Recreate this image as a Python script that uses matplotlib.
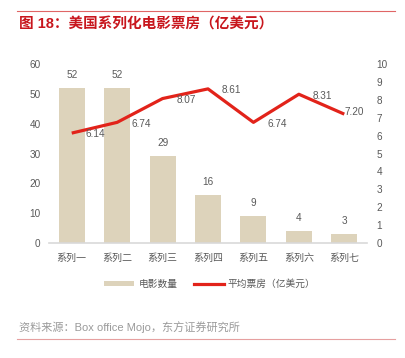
import matplotlib
matplotlib.use("Agg")
import matplotlib.pyplot as plt
from matplotlib.lines import Line2D
from matplotlib.patches import Patch

plt.rcParams['font.family'] = ['Liberation Sans', 'Noto Sans CJK SC', 'DejaVu Sans']

categories = ['系列一', '系列二', '系列三', '系列四', '系列五', '系列六', '系列七']
movie_counts = [52, 52, 29, 16, 9, 4, 3]
avg_box = [6.14, 6.74, 8.07, 8.61, 6.74, 8.31, 7.20]
left_ticks = [0, 10, 20, 30, 40, 50, 60]
right_ticks = list(range(0, 11))

W, H = 406, 358
fig = plt.figure(figsize=(W / 100, H / 100), dpi=100)

bar_color = '#DDD3BB'
line_color = '#E2231A'
text_grey = '#595959'
fs = 7.2

ax = fig.add_axes([49 / W, 1 - 243 / H, (367 - 49) / W, (243 - 64) / H])
x = list(range(len(categories)))
ax.bar(x, movie_counts, width=0.57, color=bar_color, zorder=1)
ax.set_xlim(-0.5, len(categories) - 0.5)
ax.set_ylim(0, 60)
ax.set_yticks(left_ticks)
ax.set_xticks(x)
ax.set_xticklabels(categories)
for s in ['top', 'right', 'left']:
    ax.spines[s].set_visible(False)
ax.spines['bottom'].set_color('#D9D9D9')
ax.spines['bottom'].set_linewidth(1.2)
ax.tick_params(axis='both', length=0, labelsize=fs, colors=text_grey, pad=6)
ax.tick_params(axis='x', pad=7)
for xi, v in zip(x, movie_counts):
    ax.annotate(str(v), (xi, v), xytext=(0, 6), textcoords='offset points',
                ha='center', va='bottom', fontsize=fs, color=text_grey)

ax2 = ax.twinx()
ax2.plot(x, avg_box, color=line_color, linewidth=2.3, solid_capstyle='butt', zorder=3)
ax2.set_ylim(0, 10)
ax2.set_yticks(right_ticks)
for s in ['top', 'right', 'left', 'bottom']:
    ax2.spines[s].set_visible(False)
ax2.tick_params(axis='y', length=0, labelsize=fs, colors=text_grey, pad=7)
n = len(avg_box)
for i, (xi, v) in enumerate(zip(x, avg_box)):
    dx, dy = (10, -1) if i < n - 1 else (0, 1.5)
    ax2.annotate(f'{v:.2f}', (xi, v), xytext=(dx, dy), textcoords='offset points',
                 ha='left', va='center', fontsize=fs, color=text_grey)

# Title and rules
fig.add_artist(Line2D([17 / W, 395 / W], [1 - 11 / H, 1 - 11 / H], color='#E06666', linewidth=0.8))
fig.text(19 / W, 1 - 25 / H, '图 18：美国系列化电影票房（亿美元）', fontsize=10.5, fontweight='bold',
         color='#C8161D', va='center', ha='left')

handles = [Patch(facecolor=bar_color, edgecolor='none'),
           Line2D([0], [0], color=line_color, linewidth=2.3)]
fig.legend(handles, ['电影数量', '平均票房（亿美元）'], loc='center', bbox_to_anchor=(210 / W, 1 - 284 / H),
           ncol=2, frameon=False, fontsize=7, labelcolor=text_grey, handlelength=3.1,
           handleheight=0.5, columnspacing=1.7, handletextpad=0.4)

fig.text(19 / W, 1 - 327 / H, '资料来源：Box office Mojo，东方证券研究所', fontsize=8,
         color='#9A9A9A', va='center', ha='left')
fig.add_artist(Line2D([17 / W, 395 / W], [1 - 339 / H, 1 - 339 / H], color='#E6A0A0', linewidth=0.8))

fig.savefig('out.png', dpi=100, facecolor='white')
